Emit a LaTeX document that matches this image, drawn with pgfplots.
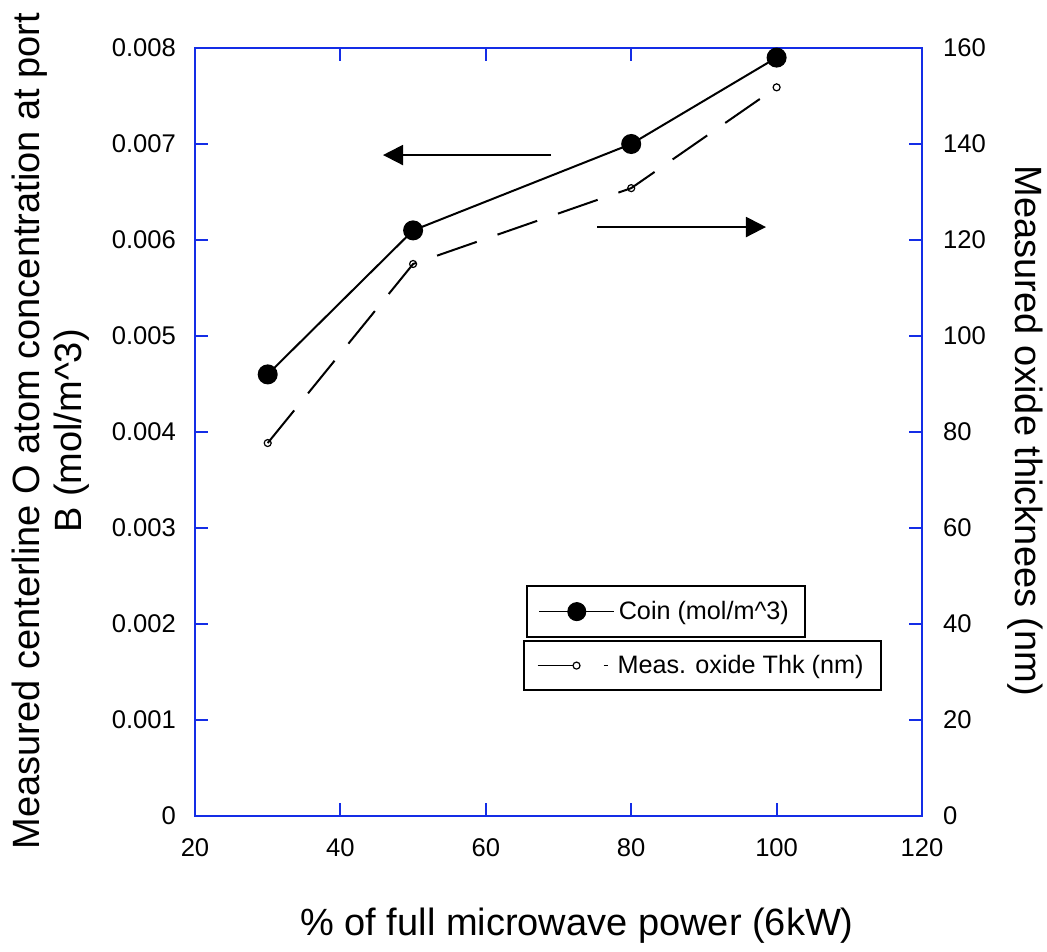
\documentclass[border=0pt]{standalone}
\usepackage{fontspec}
\setmainfont{Liberation Sans}
\usepackage{pgfplots}
\pgfplotsset{compat=1.18}
\usetikzlibrary{arrows.meta}
\definecolor{axisblue}{RGB}{20,45,230}

\begin{document}
\begin{tikzpicture}
\useasboundingbox (0,0) rectangle (523.5pt,475.5pt);
\pgfplotsset{
  common/.style={
    at={(97.5pt,67.5pt)}, anchor=south west,
    scale only axis, width=363.5pt, height=384pt,
    xmin=20, xmax=120,
    tick align=inside,
    major tick length=6.5pt,
    axis line style={draw=axisblue, line width=1pt},
    tick style={draw=axisblue, line width=1pt},
    tick label style={font=\fontsize{12.8}{15}\selectfont},
    /pgf/number format/assume math mode=true,
    legend cell align=left,
  }
}
\begin{axis}[common,
  ymin=0, ymax=0.008,
  xtick={20,40,60,80,100,120},
  xtick pos=both, xticklabel pos=lower,
  xticklabel style={yshift=-8pt},
  ytick pos=left,
  ytick={0,0.001,0.002,0.003,0.004,0.005,0.006,0.007,0.008},
  yticklabels={0,0.001,0.002,0.003,0.004,0.005,0.006,0.007,0.008},
  yticklabel style={xshift=-6pt},
  scaled y ticks=false,
  legend style={at={(axis description cs:0.455,0.3008)}, anchor=north west,
    draw=black, line width=1pt, inner xsep=6pt, inner ysep=5.5pt,
    font=\fontsize{12.6}{15}\selectfont},
  legend image code/.code={%
    \draw[#1, line width=0.5pt, mark repeat=2, mark phase=2]
      plot coordinates {(0pt,0pt) (18.75pt,0pt) (37.5pt,0pt)};},
]
\addplot[black, line width=1pt, mark=*, mark size=4.5pt, mark options={fill=black}]
  coordinates {(30,0.0046) (50,0.0061) (80,0.0070) (100,0.0079)};
\addlegendentry{Coin (mol/m\textasciicircum 3)}
\draw[black, line width=1pt, -{Triangle[length=10pt,width=10pt]}]
  (axis cs:68.97,0.006885) -- (axis cs:45.86,0.006885);
\draw[black, line width=1pt, -{Triangle[length=10pt,width=10pt]}]
  (axis cs:75.3,0.006135) -- (axis cs:98.54,0.006135);
\end{axis}

\begin{axis}[common,
  ymin=0, ymax=160,
  axis x line=none, axis y line*=right,
  ytick={0,20,40,60,80,100,120,140,160},
  yticklabel style={xshift=7pt},
  legend style={at={(axis description cs:0.4512,0.2292)}, anchor=north west,
    draw=black, line width=1pt, inner xsep=6.5pt, inner ysep=5pt,
    font=\fontsize{12.6}{15}\selectfont},
  legend image code/.code={%
    \draw[black, line width=0.5pt, solid] (0pt,0pt) -- (17.5pt,0pt);
    \draw[#1, only marks] plot coordinates {(19.5pt,0pt)};
    \draw[black, line width=0.5pt, solid] (33pt,0pt) -- (35pt,0pt);
    \path (37.5pt,0pt);},
]
\addplot[black, line width=1pt, dash pattern=on 21pt off 11pt,
  mark=o, mark size=1.75pt, mark options={solid, line width=0.6pt, fill=white}]
  coordinates {(30,77.7) (50,115) (80,130.8) (100,151.8)};
\addlegendentry{Meas. oxide Thk (nm)}
\end{axis}

\node[rotate=90, align=center, font=\fontsize{19}{21}\selectfont] at (25.5pt,260pt)
  {Measured centerline O atom concentration at port\\B (mol/m\textasciicircum 3)};
\node[rotate=-90, font=\fontsize{19}{21}\selectfont] at (512.5pt,260pt)
  {Measured oxide thicknees (nm)};
\node[anchor=base, font=\fontsize{19}{21}\selectfont] at (288.5pt,8pt)
  {\% of full microwave power (6kW)};
\end{tikzpicture}
\end{document}
